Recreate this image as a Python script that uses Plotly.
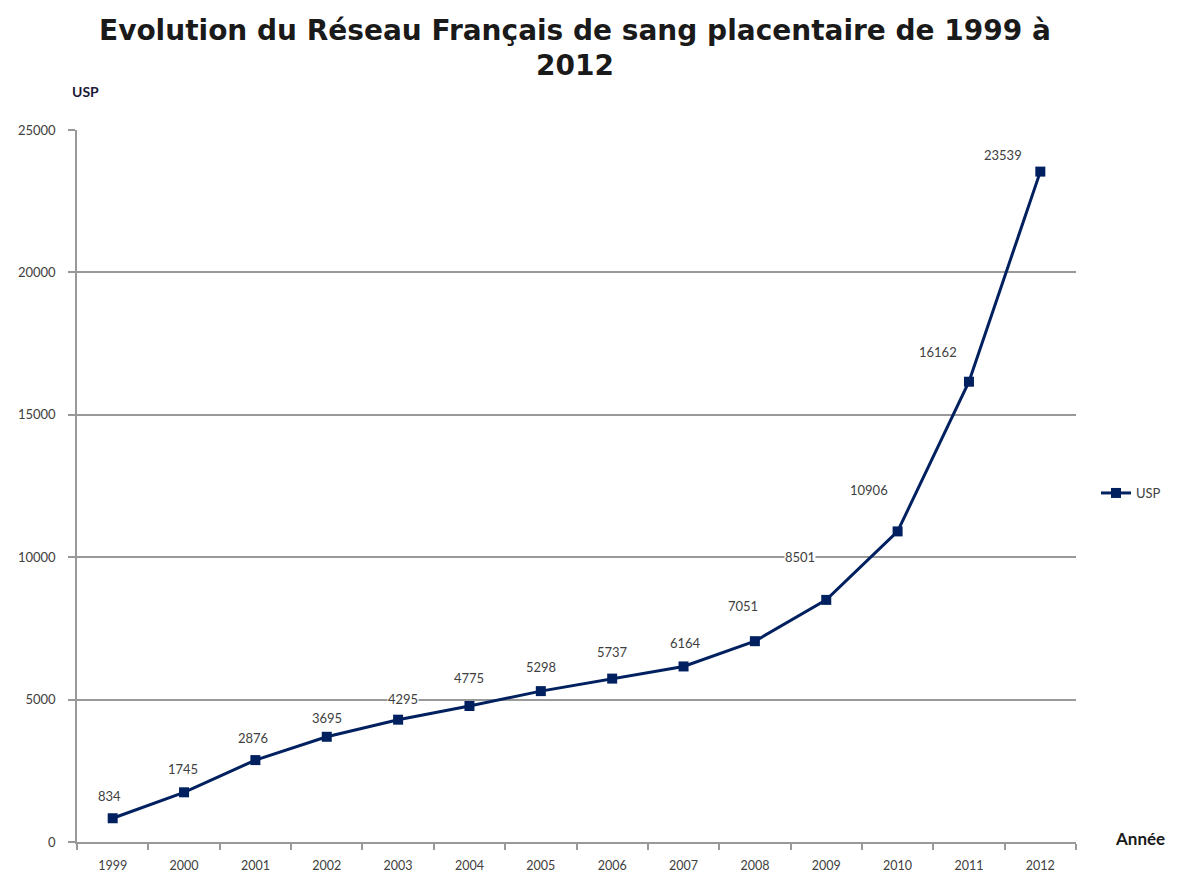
import plotly.graph_objects as go

years = ["1999", "2000", "2001", "2002", "2003", "2004", "2005", "2006",
         "2007", "2008", "2009", "2010", "2011", "2012"]
usp = [834, 1745, 2876, 3695, 4295, 4775, 5298, 5737, 6164, 7051, 8501,
       10906, 16162, 23539]
title_lines = ["Evolution du Réseau Français de sang placentaire de 1999 à", "2012"]

# label offsets in pixels (layout only)
label_dx = [-3, -1, -2, 0, 5, 0, 0, 0, 2, -12, -26, -29, -31, -37]
label_dy = [22, 23, 22, 19, 21, 28, 24, 27, 23, 35, 43, 41, 30, 17]

navy = "#002060"
txt = "#404040"
font_main = "Lato, 'DejaVu Sans', sans-serif"
font_title = "'DejaVu Sans', sans-serif"

# page body has an 8px margin: figure pixel = page pixel - 8
OFF = 8
W, H = 1188 - 2 * OFF, 881 - 2 * OFF
PL, PR, PT, PB = 77 - OFF, 1076 - OFF, 130 - OFF, 842 - OFF


def px(xp):
    return (xp - OFF - PL) / (PR - PL)


def py(yp):
    return (PB - (yp - OFF)) / (PB - PT)


fig = go.Figure()
fig.add_trace(go.Scatter(
    x=list(range(len(years))), y=usp, mode="lines+markers", name="USP",
    line=dict(color=navy, width=3),
    marker=dict(symbol="square", size=10, color=navy),
))

for i, (v, dx, dy) in enumerate(zip(usp, label_dx, label_dy)):
    fig.add_annotation(
        x=i, y=v, xref="x", yref="y", text=str(v), showarrow=False,
        xanchor="center", yanchor="middle",
        xshift=dx, yshift=dy, bgcolor="white", borderpad=0,
        font=dict(family=font_main, size=13, color=txt),
    )

fig.add_annotation(
    x=px(85), y=py(92), xref="paper", yref="paper", text="<b>USP</b>",
    xanchor="center", yanchor="middle",
    showarrow=False, font=dict(family=font_main, size=14, color="#1a1a3a"),
)
fig.add_annotation(
    x=px(1140), y=py(838), xref="paper", yref="paper", text="<b>Année</b>",
    xanchor="center", yanchor="middle",
    showarrow=False, font=dict(family=font_main, size=17, color="#1a1a1a"),
)
for line, yc in zip(title_lines, [30, 65]):
    fig.add_annotation(
        x=px(575), y=py(yc), xref="paper", yref="paper", text="<b>" + line + "</b>",
        showarrow=False, xanchor="center", yanchor="middle",
        font=dict(family=font_title, size=28, color="#1a1a1a"),
    )

fig.update_layout(
    width=W, height=H,
    paper_bgcolor="white", plot_bgcolor="white",
    margin=dict(l=PL, r=W - PR, t=PT, b=H - PB, autoexpand=False),
    showlegend=True,
    legend=dict(
        x=px(1096), y=py(493), xanchor="left", yanchor="middle",
        font=dict(family=font_main, size=13, color=txt),
        bgcolor="rgba(0,0,0,0)",
    ),
    xaxis=dict(
        range=[-0.5, len(years) - 0.5],
        tickmode="array", tickvals=list(range(len(years))), ticktext=years,
        showline=True, linecolor="#999999", linewidth=1.5,
        ticks="", showgrid=False, zeroline=False,
        tickfont=dict(family=font_main, size=12.5, color=txt),
        ticklabelstandoff=11,
        minor=dict(tickmode="array", tickvals=[i - 0.5 for i in range(len(years) + 1)],
                   ticks="outside", ticklen=6, tickcolor="#999999", tickwidth=1.5,
                   showgrid=False),
    ),
    yaxis=dict(
        range=[0, 25000], dtick=5000, tickformat="d",
        showline=True, linecolor="#999999", linewidth=1.5,
        ticks="outside", ticklen=7, tickcolor="#999999", tickwidth=1.5,
        showgrid=True, gridcolor="#999999", gridwidth=1.5,
        zeroline=False, ticklabelstandoff=10,
        tickfont=dict(family=font_main, size=13, color=txt),
    ),
)

fig.write_html("out.html")
